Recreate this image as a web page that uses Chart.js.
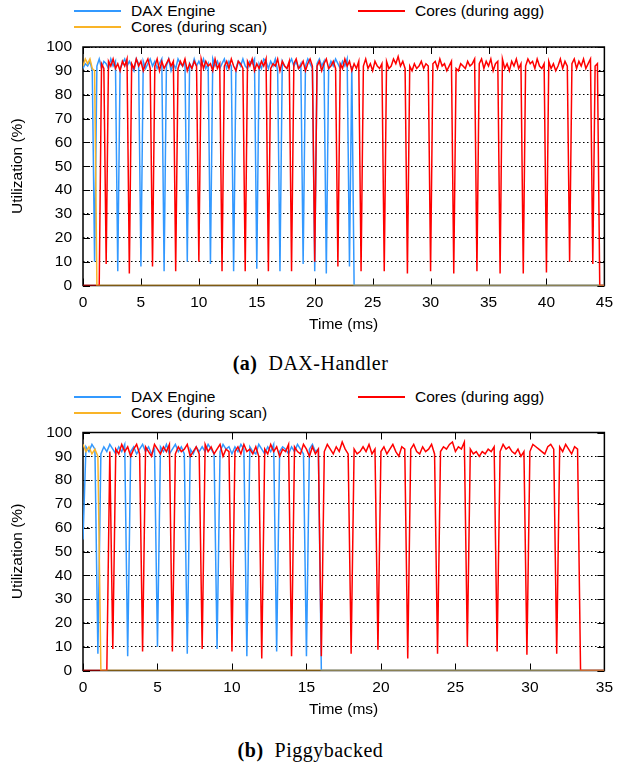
<!DOCTYPE html>
<html>
<head>
<meta charset="utf-8">
<script src="https://cdn.jsdelivr.net/npm/chart.js@4"></script>
<style>
  body { margin: 0; background: #fff; }
  #page { position: relative; width: 621px; height: 764px; overflow: hidden; font-family: 'Liberation Sans', Arial, sans-serif; }
  canvas { position: absolute; left: 0; }
  .swatch { position: absolute; width: 47px; height: 2px; }
  .lab { position: absolute; font-size: 15.5px; line-height: 16px; color: #000; white-space: nowrap; }
  .cap { position: absolute; left: 0; width: 621px; text-align: center; font-family: 'Liberation Serif', 'Times New Roman', serif; font-size: 20px; letter-spacing: 0.5px; line-height: 22px; color: #000; }
</style>
</head>
<body>
<div id="page">
  <div class="swatch" style="left:74px;top:10px;background:#3399ff"></div>
  <div class="lab" style="left:131px;top:3px">DAX Engine</div>
  <div class="swatch" style="left:74px;top:26px;background:#f9b428"></div>
  <div class="lab" style="left:131px;top:19px">Cores (during scan)</div>
  <div class="swatch" style="left:358px;top:10px;background:#ff0000"></div>
  <div class="lab" style="left:415px;top:3px">Cores (during agg)</div>
  <canvas id="chartA" width="621" height="345" style="top:0"></canvas>
  <div class="cap" style="top:352px"><b>(a)</b>&nbsp; DAX-Handler</div>

  <div class="swatch" style="left:74px;top:396px;background:#3399ff"></div>
  <div class="lab" style="left:131px;top:389px">DAX Engine</div>
  <div class="swatch" style="left:74px;top:412px;background:#f9b428"></div>
  <div class="lab" style="left:131px;top:405px">Cores (during scan)</div>
  <div class="swatch" style="left:358px;top:396px;background:#ff0000"></div>
  <div class="lab" style="left:415px;top:389px">Cores (during agg)</div>
  <canvas id="chartB" width="621" height="345" style="top:386px"></canvas>
  <div class="cap" style="top:739px"><b>(b)</b>&nbsp; Piggybacked</div>
</div>

<script>
// samples every 0.2 ms, utilization in %
var STEP = 0.2;

// (a) DAX-Handler
var daxA = [
  91, 93, 92, 94, 90, 10, 92, 95, 91, 94,
  93, 91, 95, 92, 94, 6, 91, 93, 95, 92,
  94, 92, 90, 95, 93, 8, 94, 91, 93, 95,
  92, 94, 91, 93, 95, 6, 92, 95, 90, 93,
  91, 95, 93, 92, 94, 10, 93, 91, 95, 92,
  94, 92, 95, 91, 93, 9, 95, 92, 94, 91,
  93, 95, 91, 94, 92, 6, 91, 94, 92, 95,
  92, 91, 94, 93, 95, 7, 93, 91, 95, 94,
  91, 94, 92, 95, 90, 6, 94, 92, 91, 93,
  95, 92, 94, 91, 93, 9, 92, 95, 93, 91,
  6, 93, 95, 92, 94, 5, 91, 94, 92, 95,
  93, 91, 94, 92, 95, 8, 92, 0
];
var aggA = [
  0, 0, 0, 0, 0, 0, 0, 0, 93, 91,
  9, 94, 92, 95, 91, 93, 90, 94, 92, 95,
  5, 93, 91, 95, 92, 94, 90, 93, 95, 91,
  8, 92, 95, 90, 94, 91, 93, 95, 92, 94,
  6, 91, 94, 92, 95, 90, 93, 91, 94, 92,
  10, 95, 91, 94, 92, 93, 90, 95, 91, 93,
  6, 92, 94, 91, 95, 92, 90, 94, 93, 91,
  6, 94, 92, 95, 90, 93, 91, 94, 92, 95,
  6, 91, 93, 92, 95, 90, 94, 92, 91, 94,
  6, 93, 95, 91, 92, 94, 90, 93, 95, 92,
  10, 92, 94, 90, 93, 95, 91, 92, 94, 91,
  8, 93, 91, 95, 92, 94, 90, 93, 91, 94,
  6, 92, 95, 91, 93, 90, 94, 92, 91, 93,
  6, 94, 91, 92, 95, 93, 96, 92, 94, 91,
  5, 92, 90, 93, 91, 92, 94, 91, 93, 92,
  6, 93, 94, 91, 95, 92, 93, 90, 92, 94,
  5, 91, 90, 93, 92, 91, 94, 92, 93, 95,
  6, 93, 95, 91, 94, 92, 95, 90, 93, 94,
  5, 95, 91, 93, 90, 94, 92, 95, 91, 93,
  5, 92, 95, 93, 94, 91, 95, 92, 91, 93,
  5.5, 94, 91, 93, 90, 92, 95, 91, 94, 92,
  10, 93, 95, 91, 94, 92, 95, 91, 93, 95,
  9, 92, 93, 0, 0, 0
];
var scanA = [92, 95, 93, 95, 91, 90, 0];

// (b) Piggybacked
var daxB = [
  55, 94, 92, 95, 93, 7, 91, 94, 92, 95,
  93, 91, 94, 92, 95, 6, 92, 94, 91, 93,
  95, 92, 94, 91, 93, 10, 94, 92, 95, 91,
  93, 95, 92, 94, 91, 7, 93, 91, 94, 92,
  94, 92, 95, 93, 91, 9, 92, 95, 93, 94,
  91, 94, 92, 95, 93, 6, 94, 92, 91, 95,
  93, 91, 94, 92, 95, 8, 92, 94, 93, 91,
  94, 92, 95, 93, 91, 6, 93, 95, 92, 93,
  0
];
var aggB = [
  0, 0, 0, 0, 0, 0, 0, 0, 0, 92,
  9, 93, 91, 95, 92, 94, 90, 93, 95, 91,
  8, 94, 92, 90, 95, 93, 91, 94, 92, 95,
  8, 91, 94, 92, 93, 95, 90, 92, 94, 91,
  9, 95, 92, 94, 91, 93, 95, 90, 93, 92,
  8, 92, 94, 91, 95, 92, 93, 91, 94, 90,
  5, 93, 91, 95, 92, 94, 90, 93, 92, 95,
  6, 94, 92, 91, 95, 93, 90, 94, 91, 93,
  6, 92, 95, 93, 91, 94, 92, 96, 93, 91,
  7, 93, 91, 92, 94, 92, 95, 91, 93, 8.7,
  92, 94, 91, 93, 95, 92, 90, 94, 93, 5,
  93, 95, 92, 91, 94, 92, 93, 95, 91, 7,
  92, 94, 93, 95, 96, 92, 94, 93, 96, 10,
  93, 91, 92, 90, 92, 91, 93, 92, 94, 8,
  92, 95, 93, 94, 92, 91, 93, 90, 92, 6.6,
  92, 95, 94, 93, 92, 91, 94, 95, 93, 7,
  94, 92, 95, 93, 91, 94, 93, 0
];
var scanB = [95, 92, 94, 91, 93, 90, 0];

var BLUE = '#3399ff';
var RED = '#ff0000';
var ORANGE = '#f9b428';

Chart.defaults.font.family = "'Liberation Sans', Arial, sans-serif";
Chart.defaults.font.size = 15.5;
Chart.defaults.color = '#000';

function series(vals, xMax) {
  var pts = vals.map(function (v, i) {
    return { x: Math.round(i * STEP * 10) / 10, y: v };
  });
  // a series that ends at 0 stays on the axis until the end of the run
  if (vals[vals.length - 1] === 0) pts.push({ x: xMax, y: 0 });
  return pts;
}

// gnuplot style frame with inward tick marks
var frame = {
  id: 'frame',
  beforeDatasetsDraw: function (chart) {
    var ctx = chart.ctx, a = chart.chartArea;
    var xs = chart.scales.x, ys = chart.scales.y;
    ctx.save();
    ctx.strokeStyle = '#000';
    ctx.lineWidth = 1;
    ctx.beginPath();
    xs.ticks.forEach(function (t) {
      var px = Math.round(xs.getPixelForValue(t.value)) + 0.5;
      ctx.moveTo(px, a.bottom); ctx.lineTo(px, a.bottom - 7);
      ctx.moveTo(px, a.top); ctx.lineTo(px, a.top + 7);
    });
    ys.ticks.forEach(function (t) {
      var py = Math.round(ys.getPixelForValue(t.value)) + 0.5;
      ctx.moveTo(a.left, py); ctx.lineTo(a.left + 7, py);
      ctx.moveTo(a.right, py); ctx.lineTo(a.right - 7, py);
    });
    ctx.stroke();
    ctx.lineWidth = 1.5;
    ctx.strokeRect(a.left, a.top, a.right - a.left, a.bottom - a.top);
    ctx.restore();
  }
};

function makeChart(id, dax, agg, scan, xMax, padTop, padBottom) {
  return new Chart(document.getElementById(id), {
    type: 'line',
    data: {
      datasets: [
        { label: 'Cores (during scan)', data: series(scan, xMax), borderColor: ORANGE },
        { label: 'Cores (during agg)', data: series(agg, xMax), borderColor: RED },
        { label: 'DAX Engine', data: series(dax, xMax), borderColor: BLUE }
      ]
    },
    options: {
      responsive: false,
      animation: false,
      events: [],
      datasets: {
        line: { borderWidth: 1.5, pointRadius: 0, tension: 0, fill: false }
      },
      layout: { padding: { top: padTop, right: 10.5, bottom: padBottom, left: 0 } },
      plugins: { legend: { display: false }, tooltip: { enabled: false } },
      scales: {
        x: {
          type: 'linear',
          min: 0,
          max: xMax,
          ticks: { stepSize: 5, padding: 8, maxRotation: 0 },
          grid: { display: false, drawTicks: false },
          border: { display: false },
          title: { display: true, text: 'Time (ms)', padding: { top: 0, bottom: 1 } },
          afterFit: function (s) { s.height = 50; }
        },
        y: {
          min: 0,
          max: 100,
          ticks: { stepSize: 10, padding: 11 },
          grid: { color: '#000', lineWidth: 1, drawTicks: false },
          border: { display: false, dash: [1.5, 2.5] },
          title: { display: true, text: 'Utilization (%)', padding: { top: 8, bottom: 0 } },
          afterFit: function (s) { s.width = 83; }
        }
      }
    },
    plugins: [frame]
  });
}

makeChart('chartA', daxA, aggA, scanA, 45, 47, 9.5);
makeChart('chartB', daxB, aggB, scanB, 35, 46.5, 10.5);
</script>
</body>
</html>
